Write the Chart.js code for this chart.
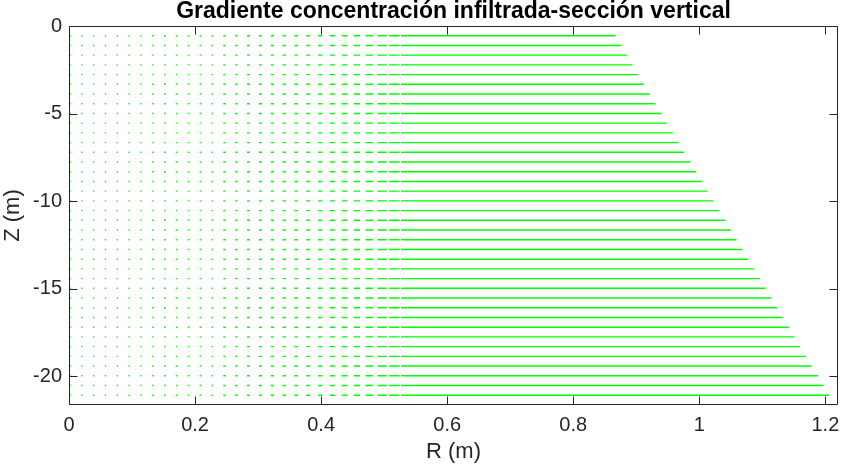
<!DOCTYPE html>
<html>
<head>
<meta charset="utf-8">
<script src="https://cdn.jsdelivr.net/npm/chart.js@4"></script>
<style>
  html, body { margin: 0; padding: 0; background: #ffffff; }
  #wrap { width: 843px; height: 466px; }
</style>
</head>
<body>
<div id="wrap"><canvas id="quiverChart" width="843" height="466"></canvas></div>
<script>
// Quiver plot of the infiltrated concentration gradient (vertical section).
// Every arrow is horizontal, starting at a grid point (r, z).

// Grid columns: radial position of each arrow tail (m)
const rCols = [
  0.0015, 0.0203, 0.0391, 0.0579, 0.0767, 0.0955, 0.1143, 0.1331, 0.1519, 0.1707,
  0.1895, 0.2083, 0.2271, 0.2459, 0.2647, 0.2835, 0.3023, 0.3211, 0.3399, 0.3587,
  0.3775, 0.3963, 0.4151, 0.4339, 0.4527, 0.4715, 0.4903, 0.5091, 0.5279, 0.5467,
  0.5655, 0.5843, 0.6031, 0.6219, 0.6407, 0.6595, 0.6783, 0.6971, 0.7159, 0.7347,
  0.7535, 0.7723, 0.7911, 0.8099, 0.8287, 0.8475, 0.8663, 0.8851, 0.9039, 0.9227,
  0.9415, 0.9603, 0.9791, 0.9979, 1.0167, 1.0355, 1.0543, 1.0731, 1.0919, 1.1107,
  1.1295, 1.1483, 1.1671, 1.1859, 1.2047
];

// Arrow length for each column (m)
const arrowLen = [
  0.0002, 0.0002, 0.0002, 0.0002, 0.0002, 0.0002, 0.0002, 0.0003, 0.0005, 0.0006,
  0.0008, 0.0009, 0.0013, 0.0016, 0.0019, 0.0024, 0.0028, 0.0032, 0.0033, 0.0037,
  0.0040, 0.0045, 0.0056, 0.0064, 0.0080, 0.0096, 0.0128, 0.0143, 0.0175, 0.0215,
  0.0265, 0.032, 0.036, 0.040, 0.045, 0.050, 0.055, 0.060, 0.066, 0.072,
  0.078, 0.085, 0.092, 0.100, 0.108, 0.116, 0.125, 0.134, 0.144, 0.154,
  0.165, 0.176, 0.188, 0.200, 0.212, 0.225, 0.238, 0.252, 0.266, 0.280,
  0.295, 0.310, 0.325, 0.340, 0.355
];

// Grid rows: depth of each row of arrows (m)
const zRows = [
  0, -0.555, -1.11, -1.665, -2.22, -2.775, -3.33, -3.885, -4.44, -4.995,
  -5.55, -6.105, -6.66, -7.215, -7.77, -8.325, -8.88, -9.435, -9.99, -10.545,
  -11.1, -11.655, -12.21, -12.765, -13.32, -13.875, -14.43, -14.985, -15.54, -16.095,
  -16.65, -17.205, -17.76, -18.315, -18.87, -19.425, -19.98, -20.535, -21.09, -21.645
];

// Outer radius of the section at each row (m) - the sloping right edge
const rowEnd = [
  0.857, 0.866, 0.875, 0.884, 0.893, 0.902, 0.911, 0.920, 0.929, 0.939,
  0.948, 0.957, 0.966, 0.975, 0.985, 0.994, 1.003, 1.012, 1.021, 1.030,
  1.040, 1.049, 1.058, 1.067, 1.076, 1.086, 1.095, 1.104, 1.113, 1.122,
  1.131, 1.141, 1.150, 1.159, 1.168, 1.177, 1.187, 1.196, 1.205, 1.214
];

// Tick labels
const xTicks = [0, 0.2, 0.4, 0.6, 0.8, 1, 1.2];
const yTicks = [0, -5, -10, -15, -20];

const X_MIN = 0;
const X_MAX = 1.22;
const Y_MIN = -21.65;
const Y_MAX = 0;

const FONT = "'Liberation Sans', Arial, Helvetica, sans-serif";
const ARROW_COLOR = "#00ff00";
const AXIS_COLOR = "#262626";

// Build one line dataset per row; a null y breaks the line between arrows.
const datasets = zRows.map((z, k) => {
  const pts = [];
  rCols.forEach((r, j) => {
    if (r >= rowEnd[k]) return;
    const tip = Math.min(r + arrowLen[j], rowEnd[k]);
    pts.push({ x: r, y: z });
    pts.push({ x: tip, y: z });
    pts.push({ x: tip, y: null });
  });
  return {
    data: pts,
    showLine: true,
    spanGaps: false,
    borderColor: ARROW_COLOR,
    borderWidth: 1.4,
    borderCapStyle: "square",
    pointRadius: 0,
    pointHoverRadius: 0,
  };
});

// Draws the MATLAB-style box, inward ticks and the title
const boxPlugin = {
  id: "matlabBox",
  afterDatasetsDraw(chart) {
    const { ctx, chartArea: a, scales } = chart;
    const L = Math.round(a.left) + 0.5;
    const R = Math.round(a.right) - 0.5;
    const T = Math.round(a.top) + 0.5;
    const B = Math.round(a.bottom) - 0.5;
    const TICK = 8;
    ctx.save();
    ctx.strokeStyle = AXIS_COLOR;
    ctx.lineWidth = 1;
    ctx.beginPath();
    ctx.rect(L, T, R - L, B - T);
    xTicks.forEach((v) => {
      const px = Math.round(scales.x.getPixelForValue(v)) + 0.5;
      ctx.moveTo(px, B);
      ctx.lineTo(px, B - TICK);
      ctx.moveTo(px, T);
      ctx.lineTo(px, T + TICK);
    });
    yTicks.forEach((v) => {
      const py = Math.round(scales.y.getPixelForValue(v)) + 0.5;
      ctx.moveTo(L, py);
      ctx.lineTo(L + TICK, py);
      ctx.moveTo(R, py);
      ctx.lineTo(R - TICK, py);
    });
    ctx.stroke();

    ctx.fillStyle = "#000000";
    ctx.font = "bold 23px " + FONT;
    ctx.textAlign = "center";
    ctx.textBaseline = "middle";
    ctx.fillText("Gradiente concentración infiltrada-sección vertical", (a.left + a.right) / 2, 12);
    ctx.restore();
  },
};

// Keep the plot box fixed: no extra side padding for the end tick labels
function noSidePadding(s) {
  s.paddingLeft = 0;
  s.paddingRight = 0;
  s.paddingTop = 0;
  s.paddingBottom = 0;
}

const ctx = document.getElementById("quiverChart").getContext("2d");
const quiverChart = new Chart(ctx, {
  type: "scatter",
  data: { datasets: datasets },
  options: {
    responsive: false,
    animation: false,
    events: [],
    layout: { padding: { top: 26, right: 5, left: 0, bottom: 0 } },
    plugins: {
      legend: { display: false },
      tooltip: { enabled: false },
      title: { display: false },
    },
    scales: {
      x: {
        type: "linear",
        min: X_MIN,
        max: X_MAX,
        afterFit: (s) => { s.height = 61; noSidePadding(s); },
        afterBuildTicks: (s) => { s.ticks = xTicks.map((v) => ({ value: v })); },
        grid: { display: false, drawTicks: false },
        border: { display: false },
        ticks: {
          color: "#262626",
          padding: 8,
          maxRotation: 0,
          font: { family: FONT, size: 20 },
          callback: (v) => String(Math.round(v * 10) / 10),
        },
        title: {
          display: true,
          text: "R (m)",
          color: "#262626",
          padding: { top: 0, bottom: 1 },
          font: { family: FONT, size: 22 },
        },
      },
      y: {
        type: "linear",
        min: Y_MIN,
        max: Y_MAX,
        afterFit: (s) => { s.width = 69; noSidePadding(s); },
        afterBuildTicks: (s) => { s.ticks = yTicks.map((v) => ({ value: v })); },
        grid: { display: false, drawTicks: false },
        border: { display: false },
        ticks: {
          color: "#262626",
          padding: 7,
          font: { family: FONT, size: 20 },
          callback: (v) => String(v),
        },
        title: {
          display: true,
          text: "Z (m)",
          color: "#262626",
          padding: { top: 0, bottom: 0 },
          font: { family: FONT, size: 22 },
        },
      },
    },
  },
  plugins: [boxPlugin],
});
</script>
</body>
</html>
